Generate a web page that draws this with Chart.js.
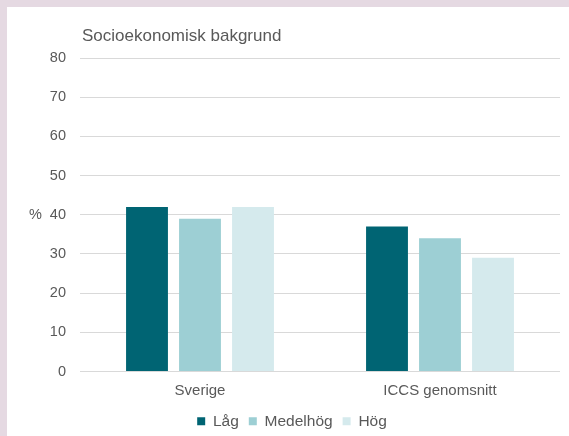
<!DOCTYPE html>
<html>
<head>
<meta charset="utf-8">
<script src="https://cdn.jsdelivr.net/npm/chart.js@4/dist/chart.umd.min.js"></script>
<style>
  html, body { margin: 0; padding: 0; }
  body { background: #e5d9e2; width: 569px; height: 436px; position: relative; overflow: hidden; }
  .card { position: absolute; left: 7px; top: 7px; width: 562px; height: 429px; background: #fff; overflow: hidden; }
  canvas { display: block; }
</style>
</head>
<body>
<div class="card">
  <canvas id="chart" width="562" height="433"></canvas>
</div>
<script>
// data
const categories = ['Sverige', 'ICCS genomsnitt'];
const lag = [42, 37];
const medelhog = [39, 34];
const hog = [42, 29];
const seriesNames = ['Låg', 'Medelhög', 'Hög'];
const colors = ['#006473', '#9dcfd4', '#d5eaed'];

const textColor = '#595959';
const fontFamily = '"Liberation Sans", Arial, sans-serif';

// title and the "%" label are drawn at fixed spots
const extraText = {
    id: 'extraText',
    afterDraw(chart) {
        const ctx = chart.ctx;
        ctx.save();
        ctx.fillStyle = textColor;
        ctx.textBaseline = 'alphabetic';
        ctx.font = '17px ' + fontFamily;
        ctx.textAlign = 'left';
        ctx.fillText('Socioekonomisk bakgrund', 75, 34);
        ctx.font = '14.5px ' + fontFamily;
        ctx.textBaseline = 'middle';
        ctx.fillText('%', 22, chart.scales.y.getPixelForValue(40));
        ctx.restore();
    }
};

const ctx = document.getElementById('chart').getContext('2d');
const chart = new Chart(ctx, {
    type: 'bar',
    data: {
        labels: categories,
        datasets: [
            { label: seriesNames[0], data: lag, backgroundColor: colors[0] },
            { label: seriesNames[1], data: medelhog, backgroundColor: colors[1] },
            { label: seriesNames[2], data: hog, backgroundColor: colors[2] }
        ]
    },
    options: {
        responsive: false,
        animation: false,
        layout: {
            padding: { top: 51, right: 9, bottom: 1, left: 17 }
        },
        datasets: {
            bar: { categoryPercentage: 0.6625, barPercentage: 0.79 }
        },
        plugins: {
            legend: {
                position: 'bottom',
                labels: {
                    boxWidth: 8,
                    boxHeight: 8,
                    padding: 10,
                    color: textColor,
                    font: { family: fontFamily, size: 15.5 }
                }
            },
            tooltip: { enabled: false }
        },
        scales: {
            x: {
                grid: { display: false, drawTicks: false },
                border: { display: false },
                ticks: {
                    color: textColor,
                    padding: 10,
                    font: { family: fontFamily, size: 15 }
                },
                afterFit(scale) { scale.height = 32; }
            },
            y: {
                min: 0,
                max: 80,
                ticks: {
                    stepSize: 10,
                    color: textColor,
                    padding: 14,
                    font: { family: fontFamily, size: 14.5 }
                },
                grid: { color: '#d9d9d9', lineWidth: 1, drawTicks: false },
                border: { display: false },
                afterFit(scale) { scale.width = 56; }
            }
        }
    },
    plugins: [extraText]
});
</script>
</body>
</html>
